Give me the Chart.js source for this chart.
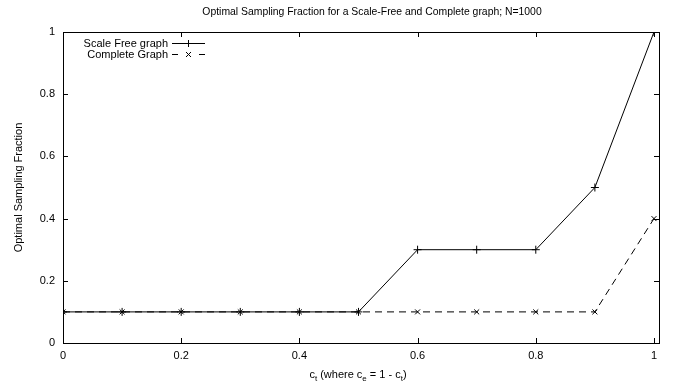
<!DOCTYPE html>
<html>
<head>
<meta charset="utf-8">
<script src="https://cdn.jsdelivr.net/npm/chart.js@4/dist/chart.umd.min.js"></script>
<style>
  html,body{margin:0;padding:0;background:#fff;}
  #wrap{width:683px;height:388px;}
</style>
</head>
<body>
<div id="wrap"><canvas id="chart" width="683" height="388"></canvas></div>
<script>
// ----------------- Data -----------------
const ctValues     = [0, 0.1, 0.2, 0.3, 0.4, 0.5, 0.6, 0.7, 0.8, 0.9, 1];
const scaleFree    = [0.1, 0.1, 0.1, 0.1, 0.1, 0.1, 0.3, 0.3, 0.3, 0.5, 1];
const completeGr   = [0.1, 0.1, 0.1, 0.1, 0.1, 0.1, 0.1, 0.1, 0.1, 0.1, 0.4];
const xTicks       = [0, 0.2, 0.4, 0.6, 0.8, 1];
const yTicks       = [0, 0.2, 0.4, 0.6, 0.8, 1];
const seriesNames  = ["Scale Free graph", "Complete Graph"];
const titleText    = "Optimal Sampling Fraction for a Scale-Free and Complete graph; N=1000";
const yLabelText   = "Optimal Sampling Fraction";

const FONT = '"Liberation Sans", Arial, Helvetica, sans-serif';

function pts(ys){ return ctValues.map((x,i)=>({x:x, y:ys[i]})); }

// ----------------- Frame, inward ticks, labels, legend -----------------
const framePlugin = {
  id: "frame",
  afterDraw(chart){
    const c = chart.ctx, a = chart.chartArea;
    const xs = chart.scales.x, ys = chart.scales.y;
    c.save();
    c.strokeStyle = "#000";
    c.lineWidth = 1;
    c.strokeRect(a.left+0.5, a.top+0.5, a.right-a.left, a.bottom-a.top);
    c.beginPath();
    xTicks.forEach(v=>{
      const px = Math.round(xs.getPixelForValue(v))+0.5;
      c.moveTo(px, a.bottom); c.lineTo(px, a.bottom-5);
      c.moveTo(px, a.top); c.lineTo(px, a.top+5);
    });
    yTicks.forEach(v=>{
      const py = Math.round(ys.getPixelForValue(v))+0.5;
      c.moveTo(a.left, py); c.lineTo(a.left+5, py);
      c.moveTo(a.right, py); c.lineTo(a.right-5, py);
    });
    c.stroke();

    // title
    c.fillStyle = "#000";
    c.font = "10.4px " + FONT;
    c.textAlign = "center";
    c.textBaseline = "middle";
    c.fillText(titleText, 372, 12);

    // y axis label
    c.font = "11px " + FONT;
    c.save();
    c.translate(19, (a.top+a.bottom)/2);
    c.rotate(-Math.PI/2);
    c.fillText(yLabelText, 0, 0);
    c.restore();

    // x axis label with subscripts: c_t (where c_e = 1 - c_t)
    const parts = [["c",0],["t",1],[" (where c",0],["e",1],[" = 1 - c",0],["t",1],[")",0]];
    const fontFor = s => (s ? "8px " : "11px ") + FONT;
    let total = 0;
    parts.forEach(p=>{ c.font = fontFor(p[1]); total += c.measureText(p[0]).width; });
    let x = 358 - total/2;
    c.textAlign = "left";
    c.textBaseline = "alphabetic";
    parts.forEach(p=>{
      c.font = fontFor(p[1]);
      c.fillText(p[0], x, p[1] ? 381 : 378);
      x += c.measureText(p[0]).width;
    });

    // legend
    c.font = "11px " + FONT;
    c.textAlign = "right";
    c.textBaseline = "middle";
    const rows = [43.5, 54.5];
    c.fillText(seriesNames[0], 168, rows[0]);
    c.fillText(seriesNames[1], 168, rows[1]);
    c.beginPath();
    c.moveTo(172, rows[0]); c.lineTo(205, rows[0]);
    c.moveTo(188.5, rows[0]-3.5); c.lineTo(188.5, rows[0]+3.5);
    c.moveTo(172, rows[1]); c.lineTo(178, rows[1]);
    c.moveTo(199, rows[1]); c.lineTo(205, rows[1]);
    c.moveTo(186, rows[1]-2.5); c.lineTo(191, rows[1]+2.5);
    c.moveTo(186, rows[1]+2.5); c.lineTo(191, rows[1]-2.5);
    c.stroke();
    c.restore();
  }
};

// ----------------- Chart -----------------
new Chart(document.getElementById("chart"), {
  type: "line",
  data: {
    datasets: [
      {label: seriesNames[0], data: pts(scaleFree), borderColor: "#000", backgroundColor: "#000",
       borderWidth: 1, pointStyle: "cross", pointRadius: 4, pointBorderWidth: 1, tension: 0},
      {label: seriesNames[1], data: pts(completeGr), borderColor: "#000", backgroundColor: "#000",
       borderWidth: 1, borderDash: [7,5], pointStyle: "crossRot", pointRadius: 3.5, pointBorderWidth: 1, tension: 0}
    ]
  },
  options: {
    responsive: false,
    animation: false,
    devicePixelRatio: 1,
    layout: {padding: {top: 32, right: 24, left: 0, bottom: 0}},
    plugins: {legend: {display: false}, title: {display: false}, tooltip: {enabled: false}},
    scales: {
      x: {
        type: "linear", min: 0, max: 1.0085,
        grid: {display: false, drawTicks: false}, border: {display: false},
        afterBuildTicks: s => { s.ticks = xTicks.map(v=>({value: v})); },
        afterFit: s => { s.height = 45; },
        ticks: {color: "#000", font: {family: FONT, size: 11}, padding: 6, maxRotation: 0,
                callback: v => String(v)}
      },
      y: {
        type: "linear", min: 0, max: 1,
        grid: {display: false, drawTicks: false}, border: {display: false},
        afterBuildTicks: s => { s.ticks = yTicks.map(v=>({value: v})); },
        afterFit: s => { s.width = 63; },
        ticks: {color: "#000", font: {family: FONT, size: 11}, padding: 8,
                callback: v => String(v)}
      }
    }
  },
  plugins: [framePlugin]
});
</script>
</body>
</html>
